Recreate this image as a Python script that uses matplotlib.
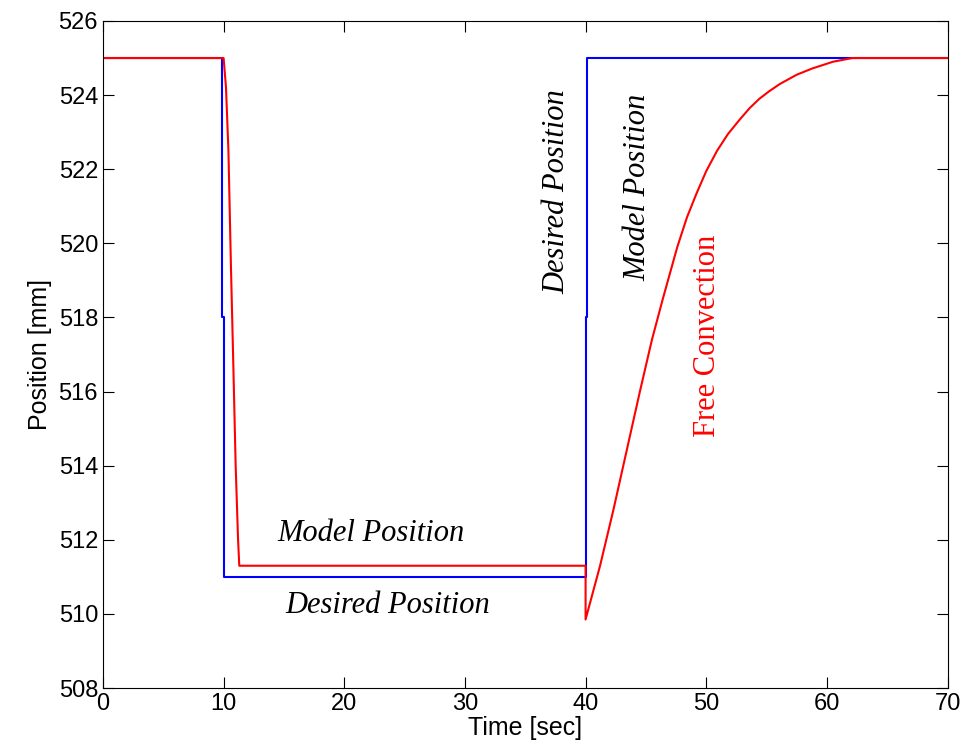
import matplotlib
matplotlib.use("Agg")
import matplotlib.pyplot as plt

# desired position (blue) - step command with one intermediate sample
t_desired = [0, 9.9, 9.9, 10.0, 10.0, 40.0, 40.0, 40.1, 40.1, 70]
y_desired = [525, 525, 518, 518, 511, 511, 518, 518, 525, 525]

# model position (red) - fast fall, hold, then free convection recovery
t_model = [0, 10.0, 10.2, 10.4, 10.6, 10.8, 11.0, 11.2, 11.3, 40.0, 40.0,
           41.2, 42.3, 43.4, 44.5, 45.5, 46.4, 47.6, 48.4, 49.2, 50.0, 50.9,
           51.8, 52.8, 53.6, 54.4, 55.2, 56.1, 57.5, 58.8, 60.5, 62.1, 70]
y_model = [525, 525, 524.2, 522.5, 519.5, 516.8, 514.0, 512.0, 511.3, 511.3, 509.85,
           511.3, 512.8, 514.4, 516.0, 517.4, 518.5, 519.9, 520.7, 521.35, 521.95, 522.5,
           522.95, 523.35, 523.65, 523.9, 524.1, 524.3, 524.55, 524.72, 524.9, 525, 525]

x_ticks = [0, 10, 20, 30, 40, 50, 60, 70]
y_ticks = [508, 510, 512, 514, 516, 518, 520, 522, 524, 526]

fig = plt.figure(figsize=(9.62, 7.55), dpi=100)
ax = fig.add_axes([0.107, 0.0887, 0.878, 0.8835])

ax.plot(t_desired, y_desired, color="blue", lw=1.5)
ax.plot(t_model, y_model, color="red", lw=1.5)

ax.set_xlim(0, 70)
ax.set_ylim(508, 526)
ax.set_xticks(x_ticks)
ax.set_yticks(y_ticks)
ax.tick_params(direction="in", length=8, top=True, right=True, labelsize=17)
for lab in ax.get_xticklabels() + ax.get_yticklabels():
    lab.set_family("Liberation Sans")
ax.set_xlabel("Time [sec]", fontsize=18, family="Liberation Sans", labelpad=1)
ax.set_ylabel("Position [mm]", fontsize=18, family="Liberation Sans", labelpad=5)

serif = dict(family="Liberation Serif", fontsize=22, ha="center", va="center")
ax.text(22.2, 512.16, "Model Position", style="italic", **serif)
ax.text(23.6, 510.24, "Desired Position", style="italic", **serif)
ax.text(37.6, 521.4, "Desired Position", style="italic", rotation=90, **serif)
ax.text(44.3, 521.5, "Model Position", style="italic", rotation=90, **serif)
ax.text(50.1, 517.5, "Free Convection", color="red", rotation=90, **serif)

fig.savefig("out.png", dpi=100)
